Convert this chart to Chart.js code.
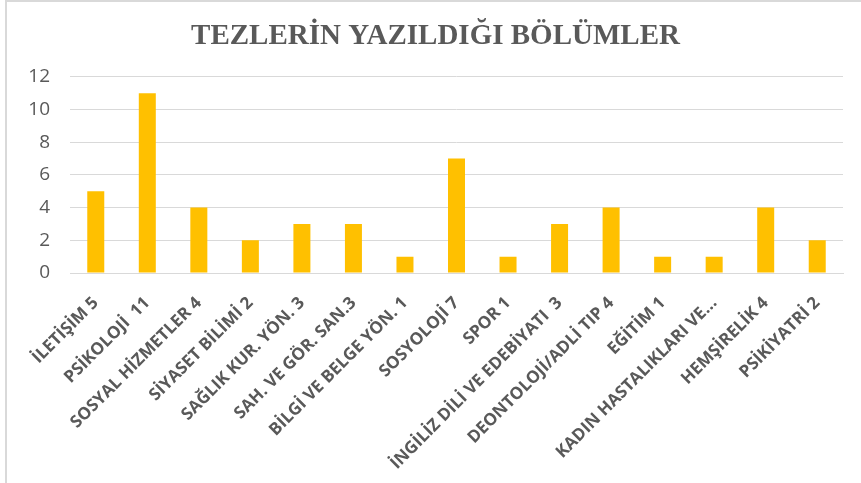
<!DOCTYPE html>
<html>
<head>
<meta charset="utf-8">
<script src="https://cdn.jsdelivr.net/npm/chart.js@4.4.1/dist/chart.umd.min.js"></script>
<style>
  html, body { margin: 0; padding: 0; background: #fff; }
  #wrap { position: relative; width: 861px; height: 483px; }
  #frame { position: absolute; left: 5px; top: 0; width: 856px; height: 483px;
           border-left: 2px solid #d9d9d9; border-top: 2px solid #d9d9d9; box-sizing: border-box; }
  canvas { position: absolute; left: 0; top: 0; }
</style>
</head>
<body>
<div id="wrap">
  <div id="frame"></div>
  <canvas id="chart" width="861" height="483"></canvas>
</div>
<script>
// ---- DATA ----
const categories = [
  'İLETİŞİM 5', 'PSİKOLOJİ  11', 'SOSYAL HİZMETLER 4', 'SİYASET BİLİMİ 2',
  'SAĞLIK KUR. YÖN. 3', 'SAH. VE GÖR. SAN.3', 'BİLGİ VE BELGE YÖN. 1', 'SOSYOLOJİ 7',
  'SPOR 1', 'İNGİLİZ DİLİ VE EDEBİYATI  3', 'DEONTOLOJİ/ADLİ TIP 4', 'EĞİTİM 1',
  'KADIN HASTALIKLARI VE...', 'HEMŞİRELİK 4', 'PSİKİYATRİ 2'
];
const counts = [5, 11, 4, 2, 3, 3, 1, 7, 1, 3, 4, 1, 1, 4, 2];
const yTicks = [0, 2, 4, 6, 8, 10, 12];

const chartTitle = 'TEZLERİN YAZILDIĞI BÖLÜMLER';

new Chart(document.getElementById('chart'), {
  type: 'bar',
  data: {
    labels: categories,
    datasets: [{
      data: counts,
      backgroundColor: '#ffc000',
      borderWidth: 0,
      barPercentage: 0.33,
      categoryPercentage: 1
    }]
  },
  options: {
    responsive: false,
    animation: false,
    layout: { padding: { left: 28, right: 18, top: 0, bottom: 0 } },
    plugins: {
      legend: { display: false },
      tooltip: { enabled: false },
      title: {
        display: true,
        text: chartTitle,
        color: '#595959',
        font: { family: 'Liberation Serif', size: 29, weight: 'bold' },
        padding: { top: 19, bottom: 23 }
      }
    },
    scales: {
      x: {
        grid: { display: false },
        border: { color: '#d9d9d9', width: 1 },
        ticks: {
          color: '#595959',
          font: { family: 'Open Sans', size: 17, weight: 'bold' },
          minRotation: 45,
          maxRotation: 45,
          autoSkip: false,
          padding: 12
        },
        afterFit: (scale) => { scale.height = 210; }
      },
      y: {
        min: 0,
        max: 12,
        afterBuildTicks: (scale) => { scale.ticks = yTicks.map(v => ({ value: v })); },
        grid: { color: '#d9d9d9', lineWidth: 1, drawTicks: false },
        border: { display: false },
        ticks: {
          color: '#595959',
          font: { family: 'Open Sans', size: 19 },
          padding: 20
        },
        afterFit: (scale) => { scale.width = 42; }
      }
    }
  }
});
</script>
</body>
</html>
